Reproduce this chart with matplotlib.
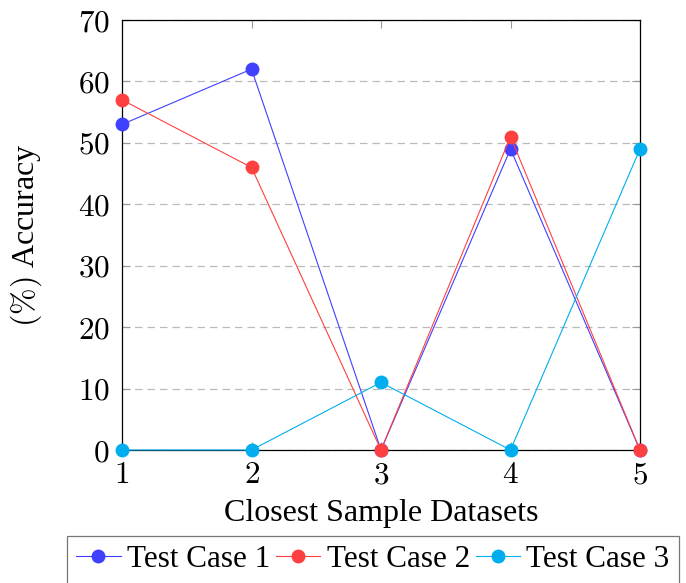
import matplotlib
matplotlib.use("Agg")
import matplotlib.pyplot as plt

# data
datasets = [1, 2, 3, 4, 5]
test_case_1 = [53, 62, 0, 49, 0]
test_case_2 = [57, 46, 0, 51, 0]
test_case_3 = [0, 0, 11, 0, 49]
series_names = ["Test Case 1", "Test Case 2", "Test Case 3"]
y_ticks = [0, 10, 20, 30, 40, 50, 60, 70]

colors = ["#4040ff", "#ff4040", "#00aeef"]

plt.rcParams["mathtext.fontset"] = "cm"
plt.rcParams["font.family"] = ["Liberation Serif", "DejaVu Serif"]

W, H = 686, 583
fig = plt.figure(figsize=(W / 100, H / 100), dpi=100)
ax = fig.add_axes([122 / W, 1 - 450 / H, (640 - 122) / W, (450 - 20) / H])

for vals, name, c in zip([test_case_1, test_case_2, test_case_3], series_names, colors):
    ax.plot(datasets, vals, color=c, lw=0.8, marker="o", ms=9, label=name,
            clip_on=False, zorder=3)

ax.set_xlim(1, 5)
ax.set_ylim(0, 70)
ax.set_xticks(datasets)
ax.set_xticklabels([f"${d}$" for d in datasets], fontsize=22.5)
ax.set_yticks(y_ticks)
ax.set_yticklabels([f"${v}$" for v in y_ticks], fontsize=22.5)
ax.tick_params(direction="in", length=6, width=0.8, color="#999999",
               top=True, right=True)
ax.tick_params(axis="y", pad=9)
ax.tick_params(axis="x", pad=8)
ax.yaxis.grid(True, linestyle=(0, (6, 4)), color="#bbbbbb", lw=0.9)
ax.set_axisbelow(True)
for s in ax.spines.values():
    s.set_linewidth(0.9)

ax.set_xlabel("Closest Sample Datasets", fontsize=23)
ax.xaxis.set_label_coords(0.5, -(499 - 450) / 430)
ax.set_ylabel(r"$(\%)$ Accuracy", fontsize=23)
ax.yaxis.set_label_coords(-(122 - 44) / 518, 0.5)

leg = fig.legend(loc="upper left", bbox_to_anchor=(67 / W, 1 - 536 / H),
                 ncol=3, fontsize=22.4, frameon=True, fancybox=False,
                 edgecolor="#555555", handlelength=1.42, handletextpad=0.2,
                 columnspacing=0.2, borderpad=0.3, borderaxespad=0)
leg.get_frame().set_linewidth(0.9)

fig.savefig("out.png", dpi=100)
